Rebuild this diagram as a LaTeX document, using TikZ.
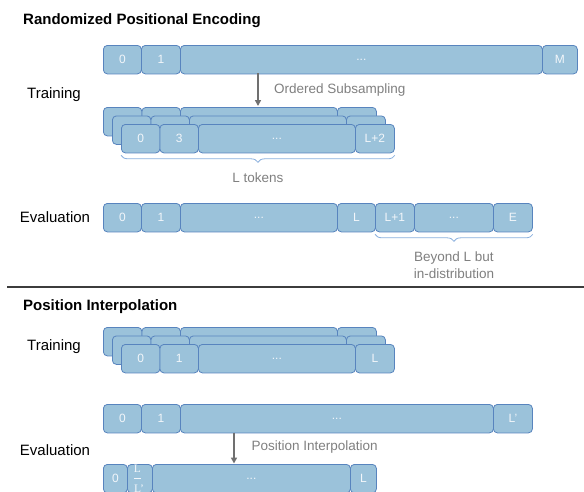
\documentclass[tikz,border=0pt]{standalone}
\usepackage{fontspec}
\setmainfont{Liberation Sans}
\newfontfamily\fracfont{Liberation Serif}
\usetikzlibrary{decorations.pathreplacing,arrows.meta}

\definecolor{tokfill}{RGB}{155,194,218}
\definecolor{tokline}{RGB}{88,132,190}
\definecolor{toktext}{RGB}{242,246,250}
\definecolor{bracecol}{RGB}{138,176,222}
\definecolor{notegray}{RGB}{128,128,128}
\definecolor{arrowgray}{RGB}{112,112,112}

\tikzset{
  tok/.style={draw=tokline, fill=tokfill, line width=0.8pt, rounded corners=4pt,
    inner sep=0pt, text=toktext, font=\fontsize{12}{14}\selectfont,
    minimum height=28.5pt, anchor=north west},
  rowlabel/.style={font=\fontsize{15}{17}\selectfont, text=black},
  heading/.style={font=\fontsize{15}{17}\selectfont\bfseries, anchor=west, inner sep=0pt},
  note/.style={font=\fontsize{13.5}{16}\selectfont, text=notegray},
  fracpart/.style={font=\fracfont\fontsize{11.5}{12}\selectfont, text=toktext,
    inner sep=0pt, anchor=base},
  flow/.style={draw=arrowgray, line width=1.5pt, -{Triangle[length=6pt,width=6pt]}},
  tokbrace/.style={draw=bracecol, line width=0.8pt,
    decorate, decoration={brace, mirror, amplitude=7pt}},
}

% token box: name, x, y (top edge), width, label
\newcommand\tokbox[5]{\node[tok, minimum width=#4pt] (#1) at (#2,#3) {#5};}
% one layer of four stacked tokens: prefix, x, y, four labels
\newcommand\tokstack[7]{%
  \tokbox{#1a}{#2}{#3}{38.5}{#4}
  \tokbox{#1b}{#2+38.5}{#3}{38.5}{#5}
  \tokbox{#1c}{#2+77}{#3}{157}{#6}
  \tokbox{#1d}{#2+234}{#3}{39}{#7}}

\begin{document}
\begin{tikzpicture}[x=1pt, y=-1pt]
\clip (0,0) rectangle (584,491);
\fill[white] (0,0) rectangle (584,491);

% ---------------- Randomized Positional Encoding ----------------
\node[heading] (t1) at (23,21) {Randomized Positional Encoding};

\tokbox{ra}{103}{45}{38}{0}
\tokbox{rb}{141}{45}{39}{1}
\tokbox{rc}{180}{45}{362}{...}
\tokbox{rd}{542}{45}{35}{M}

\node[rowlabel] (lt1) at (54,95) {Training};

\coordinate (s1top) at (258,73.4);
\coordinate (s1bot) at (258,106);
\draw[flow] (s1top) -- (s1bot);
\node[note, anchor=west] (sub) at (270.5,90) {Ordered Subsampling};

\tokstack{sa}{103}{107}{}{}{}{}
\tokstack{sb}{112}{115.5}{}{}{}{}
\tokstack{sc}{121}{124}{0}{3}{...}{L+2}

\coordinate (b1l) at ([yshift=-2pt]sca.south west);
\coordinate (b1r) at ([yshift=-2pt]scd.south east);
\draw[tokbrace] (b1l) -- (b1r) node[midway, below=14pt, note] (ltok) {L tokens};

\node[rowlabel] (le1) at (55,217) {Evaluation};

\tokbox{ea}{103}{203}{38}{0}
\tokbox{eb}{141}{203}{39}{1}
\tokbox{ec}{180}{203}{157}{...}
\tokbox{ed}{337}{203}{38}{L}
\tokbox{ee}{375}{203}{39}{L+1}
\tokbox{ef}{414}{203}{79}{...}
\tokbox{eg}{493}{203}{39}{E}

\coordinate (b2l) at ([yshift=-2pt]ee.south west);
\coordinate (b2r) at ([yshift=-2pt]eg.south east);
\draw[tokbrace] (b2l) -- (b2r) node[midway, below=14pt, note, align=center,
  font=\fontsize{13.5}{16.5}\selectfont] (beyond) {Beyond L but\\in-distribution};

% separator
\coordinate (sepl) at (7,287);
\coordinate (sepr) at (584,287);
\draw[line width=1.2pt, draw={rgb,255:red,60;green,60;blue,60}] (sepl) -- (sepr);

% ---------------- Position Interpolation ----------------
\node[heading] (t2) at (23,307) {Position Interpolation};

\tokstack{pa}{103}{327}{}{}{}{}
\tokstack{pb}{112}{335.5}{}{}{}{}
\tokstack{pc}{121}{344}{0}{1}{...}{L}

\node[rowlabel] (lt2) at (54,347) {Training};

\tokbox{qa}{103}{404}{38}{0}
\tokbox{qb}{141}{404}{39}{1}
\tokbox{qc}{180}{404}{313}{...}
\tokbox{qd}{493}{404}{39}{L’}

\node[rowlabel] (le2) at (55,450) {Evaluation};

\coordinate (p1top) at (234,432.5);
\coordinate (p1bot) at (234,463.5);
\draw[flow] (p1top) -- (p1bot);
\node[note, anchor=west] (interp) at (248,447) {Position Interpolation};

\tokbox{ua}{103}{464}{24}{0}
\tokbox{ub}{127}{464}{25}{}
\tokbox{uc}{152}{464}{198}{...}
\tokbox{ud}{350}{464}{26}{L}

% the ratio L / L' inside the second interpolated token
\node[fracpart] (fnum) at ([xshift=-2.5pt, yshift=6.6pt]ub.center) {L};
\draw[draw=toktext, line width=0.6pt]
  ([xshift=-6pt, yshift=0.6pt]ub.center) -- ([xshift=1pt, yshift=0.6pt]ub.center);
\node[fracpart, anchor=base west] (fden) at ([xshift=-6pt, yshift=-13.5pt]ub.center) {L’};
\end{tikzpicture}
\end{document}
